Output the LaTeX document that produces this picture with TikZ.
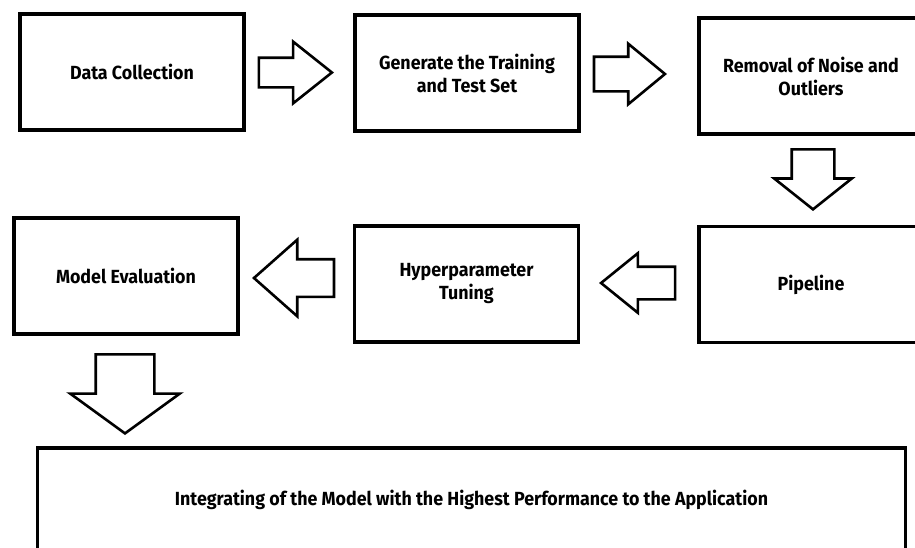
\documentclass[tikz,border=0pt]{standalone}
\usepackage{fontspec}
\newfontfamily\boxfont{Fira Sans}[FakeStretch=0.94]
\usetikzlibrary{shapes.arrows}

\begin{document}
\begin{tikzpicture}[x=1pt,y=-1pt,
  stage/.style={draw,line width=3.5pt,minimum width=224pt,minimum height=116pt,
    align=center,font=\boxfont\bfseries\fontsize{19}{23}\selectfont},
  blk/.style n args={5}{single arrow,draw,line width=2.6pt,inner sep=0pt,
    minimum width=0pt,minimum height=#1,text height=#2,text depth=0pt,
    single arrow head extend=#3,single arrow tip angle=#4,rotate=#5,anchor=tip}]
  \useasboundingbox (0,0) rectangle (915,547);
  \clip (0,0) rectangle (915,547);
  % top row
  \node[stage] (collect) at (132,72) {Data Collection};
  \node[stage] (split) at (467,73) {Generate the Training\\and Test Set};
  \node[stage] (clean) at (811,76) {Removal of Noise and\\Outliers};
  % middle row
  \node[stage] (pipe) at (811,284.5) {Pipeline};
  \node[stage] (tune) at (466.5,284) {Hyperparameter\\Tuning};
  \node[stage] (eval) at (126,276) {Model Evaluation};
  % last step
  \node[stage,minimum width=868pt,minimum height=104pt] (deploy) at (471.5,500)
    {Integrating of the Model with the Highest Performance to the Application};
  % block arrows, placed by their tips
  \node[blk={73pt}{27pt}{16pt}{77}{0}] (a1) at (334,72.5) {};
  \node[blk={71pt}{32pt}{13pt}{79}{0}] (a2) at (667,74) {};
  \node[blk={60pt}{40pt}{17.5pt}{103}{-90}] (a3) at (813,211) {};
  \node[blk={74pt}{30pt}{13.5pt}{78}{180}] (a4) at (599,283) {};
  \node[blk={80pt}{35pt}{19.5pt}{83}{180}] (a5) at (252,278) {};
  \node[blk={79pt}{56pt}{25.5pt}{108}{-90}] (a6) at (125,435) {};
\end{tikzpicture}
\end{document}
